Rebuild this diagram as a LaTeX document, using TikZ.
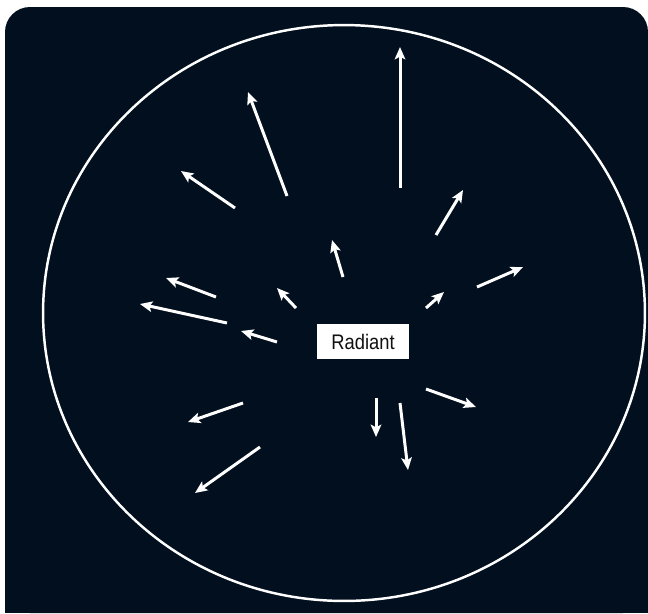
\documentclass[tikz,border=0pt]{standalone}
\usepackage{fontspec}
\setmainfont{Liberation Sans}
\newfontfamily\mtcond[FakeStretch=0.87]{Liberation Sans}
\usepackage{xcolor}
\definecolor{mtnight}{HTML}{010F1E}
\definecolor{mtink}{HTML}{111111}
\usetikzlibrary{arrows.meta}
\tikzset{
  mtsky/.style   ={fill=mtnight},
  mtrim/.style   ={draw=white, line width=1.4pt},
  mtstreak/.style={-{Stealth[length=7pt,width=6pt,inset=1.5pt]}, line width=1.7pt,
                   draw=white, fill=white},
  mtlabel/.style ={rectangle, fill=white, minimum width=1.84cm, minimum height=0.7cm,
                   inner sep=0pt, font=\mtcond\fontsize{12}{14}\selectfont, text=mtink},
}

\begin{document}
\begin{tikzpicture}[x=0.02cm, y=-0.02cm]
  \useasboundingbox (0,0) rectangle (648,613);
  % night sky
  \fill[mtsky, rounded corners=0.5cm] (5,613) -- (5,7) -- (648,7) -- (648,613) -- cycle;
  \fill[mtsky] (5,200) rectangle (648,613);
  \draw[mtrim] (344,313) ellipse [x radius=6.02cm, y radius=5.76cm];
  % meteor trails, tail/head
  \foreach \tx/\ty/\hx/\hy in {400/188/400/47, 287/196/248/92, 235/208/181/171,
      436/235/463/190, 477/287/523/267, 426/308/444/292, 343/277/332/240,
      296/308/277/288, 216/297/166/278, 227/323/140/304, 277/342/241/331,
      243/403/188/422, 260/447/195/493, 376/398/376/437, 400/403/408/470,
      426/389/476/407}{
    \draw[mtstreak] (\tx,\ty) -- (\hx,\hy);}
  \node[mtlabel] (radiant) at (363,341.5) {Radiant};
\end{tikzpicture}
\end{document}
